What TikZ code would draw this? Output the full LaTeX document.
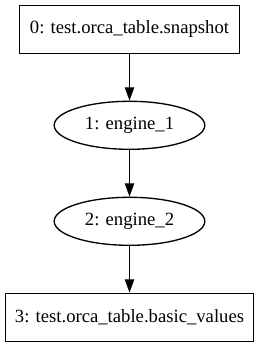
\documentclass[tikz,border=0pt]{standalone}
\usepackage{fontspec}
\setmainfont{Liberation Serif}
\usepackage{tikz}
\usetikzlibrary{arrows.meta,shapes.geometric}

\begin{document}
\begin{tikzpicture}[x=0.75pt,y=-0.75pt,
    tablebox/.style={draw,line width=1pt,rectangle,minimum height=36pt,inner sep=0pt,font=\fontsize{14}{16}\selectfont},
    enginenode/.style={draw,line width=1pt,ellipse,minimum width=113pt,minimum height=36pt,inner sep=0pt,font=\fontsize{14}{16}\selectfont},
    edge/.style={line width=1pt,-{Triangle[length=10pt,width=7pt]}}]
  % canvas
  \useasboundingbox (0,0) rectangle (259,346);
  % tables and engines
  \node[tablebox,minimum width=165pt] (snapshot) at (129.5,29.3) {0: test.orca\_table.snapshot};
  \node[enginenode] (engine1) at (129.5,125.3) {1: engine\_1};
  \node[enginenode] (engine2) at (129.5,221.3) {2: engine\_2};
  \node[tablebox,minimum width=186pt] (basicvalues) at (129.5,317.3) {3: test.orca\_table.basic\_values};
  % edges
  \draw[edge] (snapshot) -- (engine1);
  \draw[edge] (engine1) -- (engine2);
  \draw[edge] (engine2) -- (basicvalues);
\end{tikzpicture}
\end{document}
